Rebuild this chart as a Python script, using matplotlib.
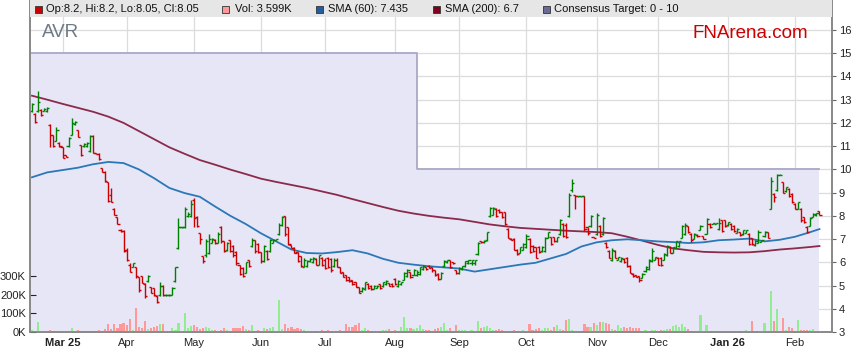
import numpy as np
import pandas as pd
import matplotlib
matplotlib.use('Agg')
import matplotlib.pyplot as plt
from matplotlib.patches import Rectangle

plt.rcParams['font.family'] = ['Liberation Sans', 'DejaVu Sans']

# =============================================================================
# DATA
# =============================================================================

ticker = 'AVR'
dates = pd.bdate_range('2025-02-17', periods=259)

opens = [12.5, 12.4, 12.5, 12.55, 12.5, 12.5, 11.9, 11.5, 11.2, 11.15,
         10.95, 10.6, 11.0, 11.5, 11.95, 11.7, 11.05, 11.0, 11.0, 10.8,
         11.45, 10.72, 10.68, 10.05, 9.9, 9.45, 8.9, 8.3, 7.95, 7.4,
         7.35, 6.55, 5.9, 5.8, 5.8, 5.35, 5.4, 5.05, 5.2, 4.95,
         4.9, 4.55, 4.6, 5.0, 4.59, 4.59, 4.6, 5.2, 6.6, 7.5,
         7.5, 8.0, 8.0, 8.7, 7.95, 7.25, 6.25, 6.3, 6.4, 6.85,
         6.98, 6.85, 7.5, 6.9, 6.55, 6.95, 6.7, 6.45, 5.88, 5.75,
         5.55, 6.1, 6.7, 6.95, 6.8, 6.45, 6.05, 6.5, 6.5, 6.85,
         6.96, 7.2, 7.6, 7.98, 7.5, 6.74, 6.62, 6.45, 6.25, 5.8,
         5.85, 6.05, 6.0, 6.15, 5.9, 6.2, 6.1, 6.2, 6.15, 5.85,
         6.1, 5.8, 5.58, 5.45, 5.35, 5.22, 5.15, 4.92, 4.75, 4.85,
         5.08, 5.0, 4.86, 4.9, 5.05, 4.96, 5.05, 5.1, 5.08, 5.28,
         5.0, 5.05, 5.25, 5.4, 5.58, 5.45, 5.45, 5.5, 5.7, 5.8,
         5.86, 5.8, 5.65, 5.5, 5.3, 5.85, 6.0, 6.08, 6.0, 5.65,
         5.52, 5.7, 5.83, 5.95, 5.95, 5.95, 6.35, 6.9, 6.86, 6.95,
         8.0, 8.05, 8.3, 8.25, 8.15, 8.15, 7.45, 7.02, 7.0, 6.55,
         6.4, 6.55, 6.65, 7.0, 6.72, 6.65, 6.68, 6.48, 6.5, 7.05,
         7.08, 7.08, 6.92, 7.2, 7.65, 7.6, 8.0, 9.1, 8.88, 8.86,
         8.86, 8.85, 7.5, 7.55, 7.08, 7.2, 7.55, 7.2, 6.85, 6.5,
         6.1, 6.5, 6.12, 6.05, 6.15, 6.2, 5.85, 5.5, 5.45, 5.4,
         5.32, 5.62, 5.7, 6.05, 6.12, 6.2, 6.2, 6.12, 6.3, 6.68,
         6.42, 6.62, 6.7, 7.05, 7.2, 7.55, 7.22, 7.02, 7.18, 7.4,
         7.12, 7.22, 7.66, 7.67, 7.67, 7.42, 7.8, 7.8, 7.6, 7.66,
         7.58, 7.27, 7.3, 7.2, 7.27, 7.22, 7.04, 6.75, 6.85, 6.87,
         7.12, 7.3, 8.3, 8.95, 9.1, 9.75, 9.45, 9.05, 9.15, 8.95,
         8.5, 8.3, 8.3, 7.95, 7.52, 7.58, 7.97, 8.02, 8.2]

highs = [12.85, 12.41, 13.37, 12.6, 12.65, 12.7, 11.94, 11.5, 11.84, 11.16,
         10.98, 10.6, 11.4, 12.2, 12.08, 11.7, 11.05, 11.12, 11.19, 11.48,
         11.48, 10.72, 10.69, 10.07, 9.93, 9.47, 9.18, 8.35, 7.96, 7.42,
         7.39, 6.6, 5.95, 5.98, 5.81, 5.38, 5.41, 5.09, 5.45, 4.95,
         4.91, 4.59, 5.14, 5.02, 4.62, 4.62, 4.95, 5.81, 7.89, 7.53,
         8.39, 8.18, 8.68, 8.75, 7.99, 7.28, 6.27, 6.99, 7.22, 7.03,
         6.99, 7.29, 7.56, 6.93, 6.89, 6.96, 6.75, 6.49, 5.9, 5.81,
         6.03, 6.1, 7.03, 6.96, 6.82, 6.46, 6.75, 6.53, 6.99, 6.99,
         7.0, 7.68, 7.99, 7.99, 7.51, 6.75, 6.64, 6.46, 6.27, 6.17,
         6.1, 6.17, 6.24, 6.17, 6.31, 6.24, 6.17, 6.24, 6.17, 6.17,
         6.17, 5.81, 5.6, 5.46, 5.38, 5.24, 5.17, 4.95, 4.95, 5.17,
         5.1, 5.02, 5.02, 5.02, 5.07, 5.17, 5.24, 5.12, 5.1, 5.31,
         5.24, 5.17, 5.6, 5.7, 5.6, 5.7, 5.67, 5.81, 5.88, 5.81,
         5.88, 5.81, 5.67, 5.53, 5.6, 6.1, 6.1, 6.1, 6.03, 5.67,
         5.78, 5.84, 6.07, 6.1, 6.1, 6.1, 6.89, 6.92, 6.95, 7.32,
         8.4, 8.4, 8.32, 8.28, 8.18, 8.18, 7.46, 7.03, 7.03, 6.56,
         6.67, 6.82, 7.22, 7.03, 6.75, 6.67, 6.7, 6.7, 7.1, 7.32,
         7.1, 7.1, 7.1, 7.85, 7.68, 7.68, 8.97, 9.59, 8.9, 8.87,
         8.87, 8.85, 7.54, 8.04, 7.1, 8.11, 7.6, 7.96, 6.89, 6.53,
         6.6, 6.53, 6.24, 6.24, 6.17, 6.21, 5.88, 5.53, 5.46, 5.41,
         5.53, 5.84, 6.13, 6.6, 6.24, 6.24, 6.21, 6.39, 6.75, 6.7,
         6.67, 6.93, 6.93, 7.6, 7.68, 7.56, 7.25, 7.25, 7.2, 7.61,
         7.13, 7.9, 7.68, 7.7, 7.7, 7.9, 7.82, 7.82, 7.75, 7.68,
         7.6, 7.46, 7.32, 7.39, 7.39, 7.25, 7.06, 6.96, 7.39, 6.96,
         7.35, 7.32, 9.69, 8.97, 9.79, 9.78, 9.47, 9.26, 9.18, 8.97,
         8.54, 8.61, 8.32, 7.96, 7.56, 7.96, 8.11, 8.14, 8.2]

lows = [12.48, 11.98, 12.48, 12.3, 12.5, 12.48, 10.98, 10.98, 11.2, 10.98,
        10.47, 10.55, 10.98, 11.48, 11.9, 11.38, 10.59, 10.98, 10.98, 10.73,
        10.69, 10.66, 10.4, 9.87, 9.47, 8.61, 8.58, 8.03, 7.63, 7.32,
        6.46, 6.06, 5.57, 5.78, 5.34, 4.73, 5.09, 4.48, 5.17, 4.66,
        4.56, 4.23, 4.56, 4.56, 4.56, 4.56, 4.59, 5.17, 6.56, 7.49,
        7.49, 7.96, 7.96, 7.53, 7.51, 6.79, 5.99, 6.24, 6.36, 6.82,
        6.79, 6.82, 6.82, 6.46, 6.5, 6.46, 6.24, 5.9, 5.46, 5.38,
        5.53, 5.81, 6.67, 6.42, 6.39, 5.99, 6.03, 6.1, 6.46, 6.82,
        6.95, 7.18, 7.56, 7.13, 6.75, 6.6, 6.39, 6.03, 5.81, 5.78,
        5.81, 6.03, 5.99, 5.88, 5.88, 5.84, 5.7, 5.74, 5.6, 5.81,
        5.78, 5.53, 5.35, 5.21, 5.17, 5.02, 4.92, 4.66, 4.74, 4.81,
        4.84, 4.81, 4.84, 4.88, 4.84, 4.95, 5.02, 4.98, 4.95, 5.02,
        4.95, 5.02, 5.24, 5.36, 5.31, 5.45, 5.43, 5.45, 5.67, 5.67,
        5.74, 5.6, 5.41, 5.24, 5.27, 5.81, 5.99, 5.74, 5.93, 5.5,
        5.5, 5.67, 5.81, 5.93, 5.9, 5.9, 6.32, 6.85, 6.85, 6.93,
        7.96, 8.02, 7.96, 8.11, 7.9, 7.6, 7.03, 6.96, 6.53, 6.32,
        6.39, 6.53, 6.6, 6.39, 6.46, 6.17, 6.42, 6.46, 6.46, 7.03,
        6.75, 6.89, 6.89, 7.18, 7.1, 7.03, 7.97, 9.03, 8.28, 8.83,
        8.83, 7.35, 7.18, 7.54, 7.03, 7.18, 7.1, 7.18, 6.6, 6.17,
        6.07, 6.17, 6.1, 6.03, 5.96, 5.81, 5.53, 5.38, 5.36, 5.17,
        5.31, 5.6, 5.67, 6.03, 6.1, 5.88, 5.84, 6.1, 6.27, 6.39,
        6.39, 6.6, 6.67, 7.03, 7.18, 7.25, 6.89, 7.0, 7.1, 7.39,
        7.0, 7.2, 7.49, 7.66, 7.66, 7.39, 7.32, 7.53, 7.58, 7.39,
        7.32, 7.25, 7.15, 7.18, 7.25, 6.75, 6.75, 6.72, 6.82, 6.86,
        7.1, 7.03, 8.28, 8.58, 9.07, 9.74, 8.97, 9.04, 8.83, 8.54,
        8.28, 8.28, 7.75, 7.71, 7.28, 7.56, 7.96, 8.0, 8.05]

closes = [12.8, 12.05, 12.9, 12.35, 12.6, 12.65, 11.5, 11.0, 11.7, 11.0,
          10.5, 10.55, 11.35, 12.0, 12.05, 11.4, 10.6, 11.1, 11.15, 11.45,
          10.7, 10.68, 10.45, 9.9, 9.5, 8.65, 8.6, 8.05, 7.65, 7.35,
          6.5, 6.1, 5.6, 5.95, 5.4, 4.8, 5.1, 4.55, 5.4, 4.7,
          4.6, 4.3, 5.0, 4.6, 4.6, 4.6, 4.9, 5.8, 7.5, 7.52,
          8.3, 8.1, 8.5, 7.9, 7.55, 7.0, 6.05, 6.9, 7.0, 7.0,
          6.85, 7.2, 6.9, 6.5, 6.85, 6.5, 6.3, 5.95, 5.5, 5.42,
          6.0, 5.85, 6.95, 6.5, 6.45, 6.05, 6.7, 6.15, 6.95, 6.97,
          6.99, 7.6, 7.95, 7.2, 6.8, 6.62, 6.42, 6.05, 5.85, 6.1,
          6.05, 6.15, 6.2, 5.9, 6.3, 5.9, 5.75, 5.8, 5.65, 6.1,
          5.8, 5.55, 5.38, 5.25, 5.2, 5.05, 4.95, 4.7, 4.9, 5.15,
          4.88, 4.85, 5.0, 5.0, 4.9, 5.15, 5.2, 5.0, 5.0, 5.05,
          5.2, 5.15, 5.55, 5.65, 5.35, 5.65, 5.6, 5.78, 5.85, 5.7,
          5.76, 5.65, 5.45, 5.28, 5.55, 6.05, 6.08, 5.78, 5.95, 5.52,
          5.75, 5.82, 6.05, 6.08, 6.08, 6.08, 6.85, 6.86, 6.92, 7.3,
          8.35, 8.35, 8.0, 8.15, 7.95, 7.65, 7.05, 6.98, 6.55, 6.35,
          6.65, 6.8, 7.15, 6.45, 6.5, 6.2, 6.45, 6.68, 7.05, 7.3,
          6.8, 6.92, 7.08, 7.8, 7.15, 7.1, 8.9, 9.4, 8.85, 8.86,
          8.86, 7.45, 7.25, 8.0, 7.05, 8.05, 7.15, 7.9, 6.65, 6.2,
          6.55, 6.2, 6.22, 6.2, 6.0, 5.85, 5.55, 5.4, 5.38, 5.22,
          5.5, 5.8, 6.1, 6.5, 6.22, 5.9, 5.88, 6.35, 6.7, 6.42,
          6.65, 6.9, 6.9, 7.55, 7.6, 7.3, 6.95, 7.2, 7.12, 7.58,
          7.02, 7.85, 7.52, 7.69, 7.69, 7.7, 7.35, 7.55, 7.72, 7.42,
          7.35, 7.44, 7.18, 7.37, 7.37, 6.8, 6.78, 6.93, 7.3, 6.94,
          7.32, 7.05, 9.5, 8.8, 9.75, 9.77, 9.0, 9.22, 8.85, 8.58,
          8.3, 8.58, 7.8, 7.75, 7.32, 7.92, 8.08, 8.12, 8.05]

volumes_k = [10, 5, 53, 5, 5, 4, 10, 5, 4, 5,
             3, 4, 3, 21, 8, 10, 1, 1, 1, 1,
             1, 2, 10, 3, 15, 43, 15, 43, 19, 43,
             46, 37, 71, 10, 130, 28, 19, 59, 14, 19,
             25, 32, 43, 43, 5, 8, 19, 10, 46, 8,
             100, 19, 32, 37, 28, 14, 19, 25, 21, 10,
             10, 3, 10, 19, 10, 5, 21, 21, 21, 32,
             14, 10, 36, 5, 10, 5, 21, 17, 21, 28,
             8, 171, 17, 43, 19, 28, 17, 19, 14, 10,
             7, 8, 7, 6, 8, 10, 7, 10, 8, 5,
             7, 10, 8, 43, 25, 25, 37, 50, 10, 19,
             10, 7, 5, 7, 5, 11, 11, 14, 5, 11,
             5, 28, 82, 20, 20, 14, 20, 37, 14, 11,
             11, 5, 14, 20, 28, 50, 11, 20, 5, 39,
             11, 11, 11, 7, 11, 8, 59, 20, 28, 32,
             20, 11, 11, 14, 11, 5, 7, 5, 11, 5,
             8, 11, 5, 45, 11, 16, 20, 11, 20, 20,
             11, 28, 37, 14, 11, 64, 70, 11, 8, 5,
             8, 43, 28, 28, 46, 37, 53, 53, 46, 43,
             14, 11, 37, 19, 28, 19, 28, 19, 19, 19,
             7, 11, 7, 11, 11, 7, 11, 11, 14, 16,
             34, 37, 25, 43, 25, 16, 5, 5, 5, 91,
             7, 37, 7, 5, 5, 7, 5, 5, 5, 5,
             5, 5, 5, 5, 11, 5, 59, 5, 5, 5,
             50, 5, 219, 59, 123, 5, 75, 11, 25, 19,
             5, 64, 11, 11, 11, 11, 14, 5, 3.6]

# moving averages sampled every 5 trading days, plus the last day
sma60 = [9.66, 9.87, 9.97, 10.07, 10.22, 10.32, 10.27, 10.0, 9.62, 9.2,
         8.98, 8.82, 8.4, 8.0, 7.65, 7.25, 6.9, 6.55, 6.4, 6.38,
         6.44, 6.52, 6.38, 6.15, 5.98, 5.9, 5.83, 5.78, 5.73, 5.6,
         5.7, 5.8, 5.9, 5.98, 6.17, 6.36, 6.68, 6.86, 6.95, 6.99,
         6.95, 6.9, 6.87, 6.83, 6.86, 6.95, 6.98, 7.02, 6.9, 6.97,
         7.1, 7.3, 7.43]
sma200 = [13.17, 13.0, 12.82, 12.65, 12.48, 12.27, 12.0, 11.65, 11.3, 10.95,
          10.67, 10.4, 10.2, 9.99, 9.8, 9.6, 9.46, 9.33, 9.2, 9.05,
          8.9, 8.72, 8.55, 8.38, 8.22, 8.1, 8.0, 7.92, 7.85, 7.74,
          7.63, 7.55, 7.48, 7.44, 7.4, 7.36, 7.33, 7.3, 7.25, 7.1,
          6.93, 6.75, 6.6, 6.52, 6.45, 6.43, 6.42, 6.43, 6.48, 6.55,
          6.6, 6.66, 6.7]

target_change = '2025-08-12'
target_levels = [15, 10]

month_labels = ['Mar 25', 'Apr', 'May', 'Jun', 'Jul', 'Aug', 'Sep', 'Oct',
                'Nov', 'Dec', 'Jan 26', 'Feb']

legend_items = [('#cc0000', 'Op:8.2, Hi:8.2, Lo:8.05, Cl:8.05', 34.5, 46.5),
                ('#ff9999', 'Vol: 3.599K', 222, 235),
                ('#1f5f9f', 'SMA (60): 7.435', 316, 328),
                ('#800020', 'SMA (200): 6.7', 432.5, 445),
                ('#6a6a9a', 'Consensus Target: 0 - 10', 542.5, 554)]

# =============================================================================
# FIGURE
# =============================================================================

W, H = 859, 363
fig = plt.figure(figsize=(W / 100, H / 100), dpi=100)
ax = fig.add_axes([30 / W, 31 / H, 802 / W, 332 / H])
ax_v = ax.twinx()

n = len(dates)
x = np.arange(n)
o = np.array(opens); h = np.array(highs); l = np.array(lows); c = np.array(closes)
up = c >= o

x_left, x_right = -0.65, 262.1
ax.set_xlim(x_left, x_right)
ax.set_ylim(3, 17.29)
ax_v.set_ylim(0, 332 / 0.187)

# grid
for yv in range(4, 17):
    ax.axhline(yv, color='#dcdcdc', lw=0.9, zorder=0)
first_of_month = [i for i in range(1, n) if dates[i].month != dates[i - 1].month]
for i in first_of_month:
    ax.axvline(i, color='#dcdcdc', lw=0.9, zorder=0)

# consensus target band
sw = dates.get_loc(pd.Timestamp(target_change))
ax.fill_between([x_left, sw], 3, target_levels[0], color='#e6e6f6', lw=0, zorder=1)
ax.fill_between([sw, n - 1], 3, target_levels[1], color='#e6e6f6', lw=0, zorder=1)
ax.plot([x_left, sw, sw, n - 1],
        [target_levels[0], target_levels[0], target_levels[1], target_levels[1]],
        color='#a8a8c8', lw=1.3, zorder=1.5)

# moving averages
sx = np.r_[np.arange(0, n, 5), n - 1]
ax.plot(sx, sma200, color='#8b2a4a', lw=1.3, zorder=2, solid_joinstyle='round')
ax.plot(sx, sma60, color='#2a78b8', lw=1.3, zorder=2, solid_joinstyle='round')

# OHLC bars
cols = np.where(up, '#008000', '#cc0000')
tw = 0.7
ax.vlines(x, l, h, colors=cols, lw=1.0, zorder=3)
ax.hlines(o, x - tw, x, colors=cols, lw=1.0, zorder=3)
ax.hlines(c, x, x + tw, colors=cols, lw=1.0, zorder=3)

# volume
vcols = np.where(up, '#90ee90', '#ff9999')
ax_v.bar(x, volumes_k, width=0.7, color=vcols, lw=0, zorder=2)

# axes styling
ax.set_xticks(first_of_month)
ax.set_xticklabels(month_labels)
for lab in ax.get_xticklabels():
    if ' ' in lab.get_text():
        lab.set_fontweight('bold')
ax.tick_params(axis='x', length=0, pad=4, labelsize=8, colors='#222222')

ax.yaxis.tick_right()
ax.set_yticks(range(3, 17))
ax.tick_params(axis='y', direction='out', length=3, pad=2, labelsize=8,
               colors='#666666', labelcolor='#222222')

ax_v.yaxis.tick_left()
ax_v.set_yticks([0, 100, 200, 300])
ax_v.set_yticklabels(['0K', '100K', '200K', '300K'])
ax_v.tick_params(axis='y', direction='in', length=4, pad=3, labelsize=8,
                 colors='#222222')

for a in (ax, ax_v):
    a.spines['top'].set_visible(False)
    for s in ('left', 'right', 'bottom'):
        a.spines[s].set_color('#888888')
        a.spines[s].set_linewidth(1.2)

# legend bar
bar_h = 17 / 332
ax_v.add_patch(Rectangle((0, 1 - bar_h), 1, bar_h, transform=ax_v.transAxes,
                         facecolor='#e6e6e6', edgecolor='none', zorder=10,
                         clip_on=False))
for col, txt, sqx, tx in legend_items:
    fig.patches.append(Rectangle((sqx / W, 1 - 13 / H), 7 / W, 7 / H,
                                 transform=fig.transFigure, facecolor=col,
                                 edgecolor='#333333', lw=0.6, zorder=11))
    fig.text(tx / W, 1 - 9.5 / H, txt, fontsize=8, color='#111111',
             va='center', ha='left', zorder=12)

fig.text(42 / W, 1 - 32.5 / H, ticker, fontsize=13.5, color='#6e7a86',
         va='center', ha='left')
fig.text(693 / W, 1 - 33 / H, 'FNArena.com', fontsize=13.5, color='#cc0000',
         va='center', ha='left')

fig.savefig('out.png', dpi=100)
